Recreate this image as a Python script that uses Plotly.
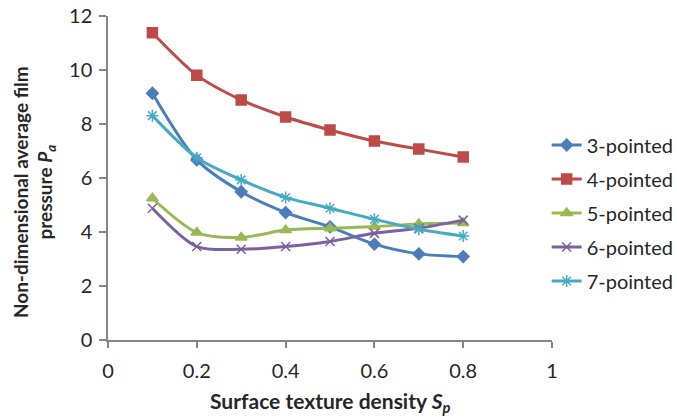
import plotly.graph_objects as go

density = [0.1, 0.2, 0.3, 0.4, 0.5, 0.6, 0.7, 0.8]
p3 = [9.14, 6.67, 5.49, 4.72, 4.19, 3.55, 3.19, 3.09]
p4 = [11.38, 9.81, 8.89, 8.26, 7.78, 7.37, 7.07, 6.78]
p5 = [5.25, 3.98, 3.80, 4.07, 4.14, 4.20, 4.30, 4.33]
p6 = [4.88, 3.46, 3.36, 3.46, 3.65, 3.95, 4.14, 4.44]
p7 = [8.31, 6.75, 5.93, 5.28, 4.88, 4.47, 4.10, 3.85]

names = ["3-pointed", "4-pointed", "5-pointed", "6-pointed", "7-pointed"]
series = [p3, p4, p5, p6, p7]
colors = ["#4A7EBB", "#BE4B48", "#98B954", "#7D60A0", "#46AAC5"]
symbols = ["diamond", "square", "triangle-up", "x-thin", "asterisk"]
sizes = [9, 10, 10, 9, 10]

fig = go.Figure()
for i, (n, s, c, m, sz) in enumerate(zip(names, series, colors, symbols, sizes)):
    fig.add_trace(go.Scatter(
        x=density, y=s, name=n, mode="lines+markers",
        line=dict(color=c, width=3, shape="spline", smoothing=0.8),
        marker=dict(symbol=m, size=sz, color=c, line=dict(color=c, width=1.5)),
        legendgroup=n,
    ))

font = "Lato, Carlito, Calibri, sans-serif"
txt = "#262626"
fig.update_layout(
    width=677, height=419,
    margin=dict(l=108, r=125, t=16, b=79, autoexpand=False),
    plot_bgcolor="white", paper_bgcolor="white",
    font=dict(family=font, size=20, color=txt),
    showlegend=True,
    legend=dict(x=0.988, y=0.392, xanchor="left", yanchor="middle",
                font=dict(size=20, color=txt), traceorder="grouped",
                tracegroupgap=5, bgcolor="rgba(0,0,0,0)"),
    xaxis=dict(range=[0, 1], tickvals=[0, 0.2, 0.4, 0.6, 0.8, 1],
               ticktext=["0", "0.2", "0.4", "0.6", "0.8", "1"],
               showgrid=False, zeroline=False, showline=True, automargin=False,
               linecolor="#868686", linewidth=1.5, ticks="outside",
               tickcolor="#868686", ticklen=6, tickwidth=1.5,
               ticklabelstandoff=6, tickfont=dict(size=20, color=txt)),
    yaxis=dict(range=[0, 12], tickvals=[0, 2, 4, 6, 8, 10, 12],
               showgrid=False, zeroline=False, showline=True, automargin=False,
               linecolor="#868686", linewidth=1.5, ticks="outside",
               tickcolor="#868686", ticklen=7, tickwidth=1.5,
               ticklabelstandoff=3, tickfont=dict(size=20, color=txt)),
    annotations=[
        dict(text="<b>Surface texture density <i>S<sub>p</sub></i></b>",
             xref="paper", yref="paper", x=0.5, y=-0.191,
             xanchor="center", yanchor="middle", showarrow=False,
             font=dict(size=21, color=txt)),
        dict(text="<b>Non-dimensional average film<br>pressure <i>P<sub>a</sub></i></b>",
             xref="paper", yref="paper", x=-0.167, y=0.456, textangle=-90,
             xanchor="center", yanchor="middle", showarrow=False,
             font=dict(size=19, color=txt)),
    ],
)

fig.write_html("out.html", config={"displayModeBar": False},
               post_script="document.body.style.margin='0';")
